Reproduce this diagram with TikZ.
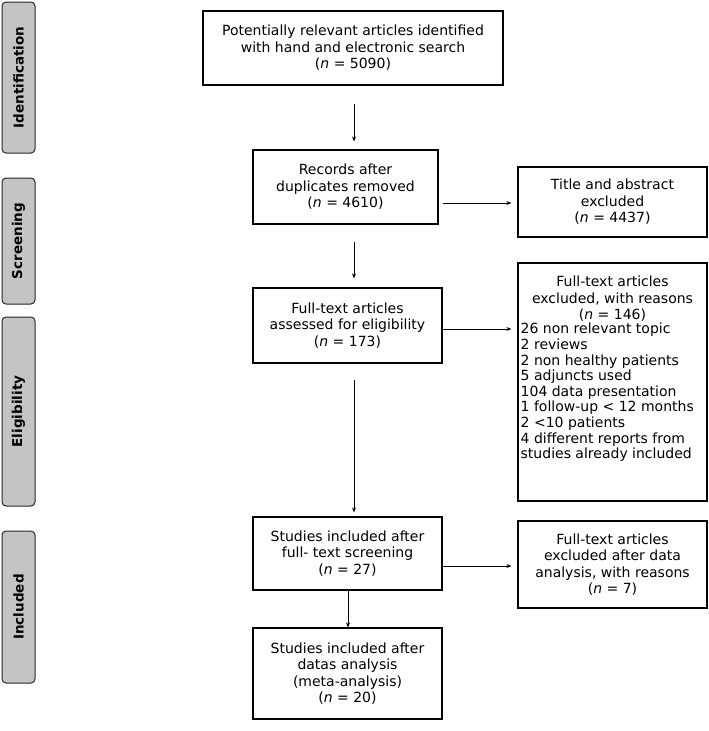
\documentclass[tikz,border=0pt]{standalone}
\usepackage{fontspec}
\setmainfont{DejaVu Sans}
\usetikzlibrary{arrows.meta,calc}
\begin{document}
\begin{tikzpicture}[x=1pt,y=-1pt,
  box/.style={draw=black,line width=1.2pt,align=center,inner sep=0pt,font=\fontsize{14}{16.5}\selectfont},
  txt/.style={inner sep=0pt,font=\fontsize{14}{15.6}\selectfont},
  phase/.style={draw=black!85,fill=black!23,rounded corners=4pt,line width=1pt,inner sep=0pt,
    rotate=90,minimum height=33,font=\bfseries\fontsize{13.5}{16}\selectfont},
  arr/.style={-{Stealth[length=5pt,width=4pt]},line width=0.9pt}]
\useasboundingbox (0,0) rectangle (709,731);

% phase bars
\node[phase,minimum width=151] (pid) at (18.5,77.5) {Identification};
\node[phase,minimum width=126] (psc) at (18.5,241) {Screening};
\node[phase,minimum width=189] (pel) at (18.5,411.5) {Eligibility};
\node[phase,minimum width=152] (pin) at (18.5,607) {Included};

% boxes
\node[box,minimum width=300,minimum height=74] (b1) at (353,48)
  {Potentially relevant articles identified\\with hand and electronic search\\(\textit{n} = 5090)};
\node[box,minimum width=185,minimum height=74] (b2) at (345.5,187)
  {Records after\\duplicates removed\\(\textit{n} = 4610)};
\node[box,minimum width=189,minimum height=70] (b3) at (612.5,202)
  {Title and abstract\\excluded\\(\textit{n} = 4437)};
\node[box,minimum width=189,minimum height=75] (b4) at (347.5,325.5)
  {Full-text articles\\assessed for eligibility\\(\textit{n} = 173)};
\node[box,minimum width=189,minimum height=238] (b5) at (612.5,382) {};
\node[txt,align=center,anchor=north,font=\fontsize{14}{16.5}\selectfont] (b5h) at (612.5,276)
  {Full-text articles\\excluded, with reasons\\(\textit{n} = 146)};
\node[txt,align=left,anchor=north west] (b5l) at (520.5,323)
  {26 non relevant topic\\2 reviews\\2 non healthy patients\\5 adjuncts used\\104 data presentation\\1 follow-up < 12 months\\2 <10 patients\\4 different reports from\\studies already included};
\node[box,minimum width=189,minimum height=73] (b6) at (347.5,553.5)
  {Studies included after\\full- text screening\\(\textit{n} = 27)};
\node[box,minimum width=189,minimum height=87] (b7) at (612.5,564.5)
  {Full-text articles\\excluded after data\\analysis, with reasons\\(\textit{n} = 7)};
\node[box,minimum width=189,minimum height=91] (b8) at (347.5,673.5)
  {Studies included after\\datas analysis\\(meta-analysis)\\(\textit{n} = 20)};

% connectors
\coordinate (c1a) at ($(b1.south)+(1,18)$);
\coordinate (c1b) at ($(b2.north)+(8.5,-8)$);
\draw[arr] (c1a) -- (c1b);
\coordinate (c2a) at ($(b2.east)+(4,16)$);
\coordinate (c2b) at ($(b3.west)+(-6,1)$);
\draw[arr] (c2a) -- (c2b);
\coordinate (c3a) at ($(b2.south)+(8.5,17)$);
\coordinate (c3b) at ($(b4.north)+(6.5,-9)$);
\draw[arr] (c3a) -- (c3b);
\coordinate (c4a) at ($(b4.east)+(0,3.5)$);
\coordinate (c4b) at ($(b5.west)+(-6,-53)$);
\draw[arr] (c4a) -- (c4b);
\coordinate (c5a) at ($(b4.south)+(6.5,16)$);
\coordinate (c5b) at ($(b6.north)+(6.5,-4)$);
\draw[arr] (c5a) -- (c5b);
\coordinate (c6a) at ($(b6.east)+(0,12.5)$);
\coordinate (c6b) at ($(b7.west)+(-6,1.5)$);
\draw[arr] (c6a) -- (c6b);
\draw[arr] ($(b6.south)+(0.5,0)$) -- ($(b8.north)+(0.5,0)$);
\end{tikzpicture}
\end{document}
